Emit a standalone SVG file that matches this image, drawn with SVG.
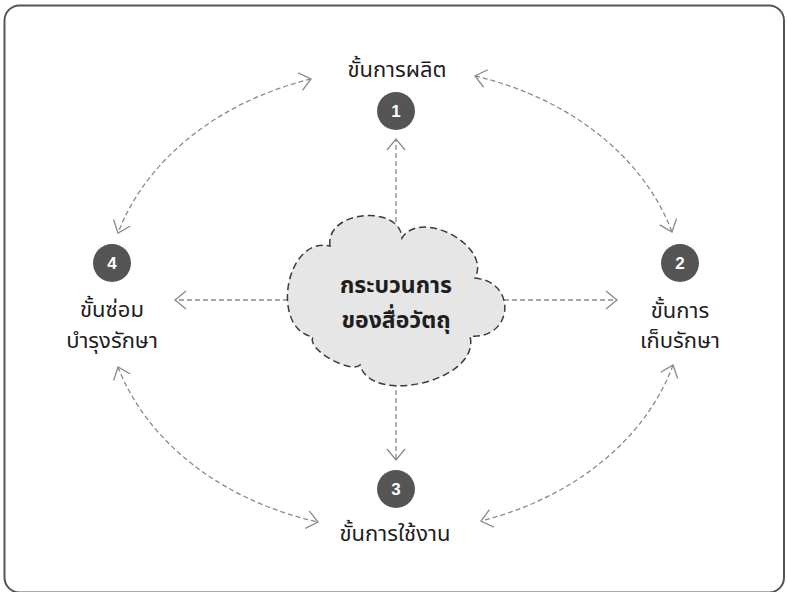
<svg xmlns="http://www.w3.org/2000/svg" width="787" height="592" viewBox="0 0 787 592">
<style>
.lbl{font-family:"Noto Sans Thai","Noto Sans","Liberation Sans",sans-serif;font-size:22px;fill:#1e1e1e;text-anchor:middle}
.ttl{font-family:"Noto Sans Thai","Noto Sans","Liberation Sans",sans-serif;font-size:23px;font-weight:bold;fill:#1e1e1e;text-anchor:middle}
.num{font-family:"Liberation Sans",Arial,sans-serif;font-size:17px;font-weight:bold;fill:#fff;text-anchor:middle}
.badge{fill:#555}
.con{fill:none;stroke:#8a8a8a;stroke-width:1.3;stroke-dasharray:5 3}
</style>
<defs>
<marker id="ah" markerUnits="userSpaceOnUse" markerWidth="30" markerHeight="30" viewBox="-15 -15 30 30" refX="0" refY="0" orient="auto-start-reverse">
<path d="M-11,-9 L0,0 L-11,9" fill="none" stroke="#8a8a8a" stroke-width="1.3"/>
</marker>
</defs>
<rect x="4.5" y="5.5" width="779.5" height="587" rx="15" fill="#fff" stroke="#555" stroke-width="2"/>
<g id="connectors">
<path class="con" d="M396,238 L396,139" marker-end="url(#ah)"/>
<path class="con" d="M396,382 L396,460" marker-end="url(#ah)"/>
<path class="con" d="M288,300 L175,300" marker-end="url(#ah)"/>
<path class="con" d="M504,300 L617,300" marker-end="url(#ah)"/>
<path class="con" d="M311,79 A291,232 0 0 0 118,233" marker-start="url(#ah)" marker-end="url(#ah)"/>
<path class="con" d="M475,76 A291,232 0 0 1 672,232" marker-start="url(#ah)" marker-end="url(#ah)"/>
<path class="con" d="M118,367 A291,232 0 0 0 318,522" marker-start="url(#ah)" marker-end="url(#ah)"/>
<path class="con" d="M673,365 A291,232 0 0 1 481,521" marker-start="url(#ah)" marker-end="url(#ah)"/>
</g>
<g id="cloud">
<path d="M330,246 C325,210 400,204 402,238 C421,208 492,246 475,278 C518,282 513,340 470,336 C481,381 371,406 360,365 C352,374 306,350 313,337 C270,329 285,236 330,246 Z" fill="#e6e6e6" stroke="#3a3a3a" stroke-width="1.5" stroke-dasharray="7 4"/>
<text class="ttl" x="396" y="293">กระบวนการ</text>
<text class="ttl" x="396" y="328">ของสื่อวัตถุ</text>
</g>
<g id="node1">
<text class="lbl" x="397" y="77">ขั้นการผลิต</text>
<circle class="badge" cx="396" cy="111" r="19"/>
<text class="num" x="396" y="117">1</text>
</g>
<g id="node2">
<circle class="badge" cx="680" cy="263" r="19"/>
<text class="num" x="680" y="269">2</text>
<text class="lbl" x="680" y="318">ขั้นการ</text>
<text class="lbl" x="680" y="348">เก็บรักษา</text>
</g>
<g id="node3">
<circle class="badge" cx="396" cy="489" r="19"/>
<text class="num" x="396" y="495">3</text>
<text class="lbl" x="395" y="541">ขั้นการใช้งาน</text>
</g>
<g id="node4">
<circle class="badge" cx="112" cy="263" r="19"/>
<text class="num" x="112" y="269">4</text>
<text class="lbl" x="112" y="317">ขั้นซ่อม</text>
<text class="lbl" x="112" y="348">บำรุงรักษา</text>
</g>
</svg>
